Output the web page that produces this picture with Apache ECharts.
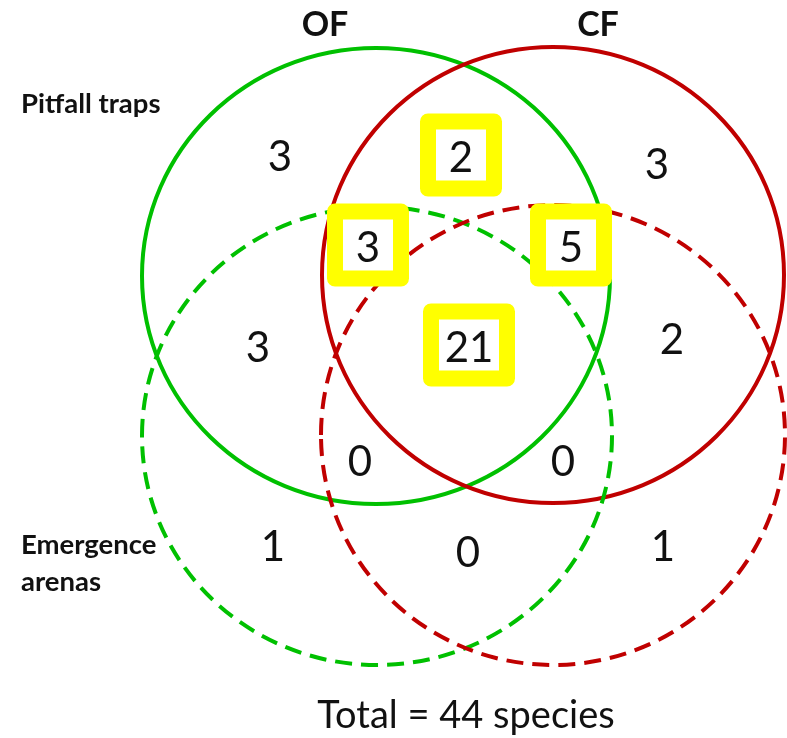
<!DOCTYPE html>
<html>
<head>
<meta charset="utf-8">
<script src="https://cdn.jsdelivr.net/npm/echarts@6/dist/echarts.min.js"></script>
<style>
  html, body { margin: 0; padding: 0; background: #ffffff; }
  #chart { width: 787px; height: 738px; }
</style>
</head>
<body>
<div id="chart"></div>
<script>
// Venn counts: species found by trap type (pitfall / emergence) and forest type (OF / CF)
const setNames = ['OF', 'CF'];
const methodNames = ['Pitfall traps', 'Emergence\narenas'];
const regionCounts = [3, 2, 3, 3, 5, 3, 21, 2, 0, 0, 1, 0, 1];
const regionHighlighted = [false, true, false, true, true, false, true, false, false, false, false, false, false];
const totalSpecies = 44;

// layout (chart units == pixels)
const regionAnchors = [
  [280, 157], [461, 158], [657, 165],
  [368, 248], [571, 248],
  [258, 348], [469, 348], [672, 340],
  [360, 462], [563, 462],
  [273, 547], [468, 553], [663, 547]
];
// cx, cy, rx, ry, colour, dashed
const circles = [
  [376, 276, 234, 228, '#00c000', false],
  [553, 275, 231, 228, '#c00000', false],
  [377, 436, 235, 229, '#00c000', true],
  [553, 435, 232, 230, '#c00000', true]
];
const setLabelPos = [[325, 25], [598, 25]];
const methodLabelPos = [[21, 104], [21, 564]];
const FONT = 'Lato';

const chart = echarts.init(document.getElementById('chart'));

const textData = [];
regionCounts.forEach((c, i) => {
  textData.push([regionAnchors[i][0], regionAnchors[i][1], String(c), 42, 'normal', 'center', 50]);
});
setNames.forEach((s, i) => {
  textData.push([setLabelPos[i][0], setLabelPos[i][1], s, 34, 'bold', 'center', 40]);
});
methodNames.forEach((s, i) => {
  textData.push([methodLabelPos[i][0], methodLabelPos[i][1], s, 27.5, 'bold', 'left', 37]);
});
textData.push([466, 716, 'Total = ' + totalSpecies + ' species', 38, 'normal', 'center', 44]);

const boxData = [];
regionCounts.forEach((c, i) => {
  if (regionHighlighted[i]) {
    boxData.push([regionAnchors[i][0], regionAnchors[i][1] - 3, String(c).length]);
  }
});

const option = {
  animation: false,
  grid: { left: 0, right: 0, top: 0, bottom: 0 },
  xAxis: { type: 'value', min: 0, max: 787, show: false },
  yAxis: { type: 'value', min: 0, max: 738, inverse: true, show: false },
  series: [
    {
      type: 'custom',
      data: circles,
      renderItem: (params, api) => {
        const c = circles[params.dataIndex];
        const p = api.coord([c[0], c[1]]);
        const s = api.size([c[2], c[3]]);
        return {
          type: 'ellipse',
          shape: { cx: p[0], cy: p[1], rx: s[0], ry: s[1] },
          style: {
            fill: 'none',
            stroke: c[4],
            lineWidth: 4,
            lineDash: c[5] ? [17, 9] : null
          }
        };
      }
    },
    {
      type: 'custom',
      data: boxData,
      renderItem: (params, api) => {
        const b = boxData[params.dataIndex];
        const p = api.coord([b[0], b[1]]);
        const w = b[2] > 1 ? 76 : 66;
        const h = 67;
        return {
          type: 'rect',
          shape: { x: p[0] - w / 2, y: p[1] - h / 2, width: w, height: h },
          style: { fill: '#ffffff', stroke: '#ffff00', lineWidth: 16, lineJoin: 'round' }
        };
      }
    },
    {
      type: 'custom',
      data: textData,
      renderItem: (params, api) => {
        const t = textData[params.dataIndex];
        const p = api.coord([t[0], t[1]]);
        return {
          type: 'text',
          x: p[0],
          y: p[1],
          style: {
            text: t[2],
            fontFamily: FONT,
            fontSize: t[3],
            fontWeight: t[4],
            fill: '#111111',
            align: t[5],
            verticalAlign: 'middle',
            lineHeight: t[6]
          }
        };
      }
    }
  ]
};

chart.setOption(option);
window.addEventListener('resize', () => chart.resize());
</script>
</body>
</html>
